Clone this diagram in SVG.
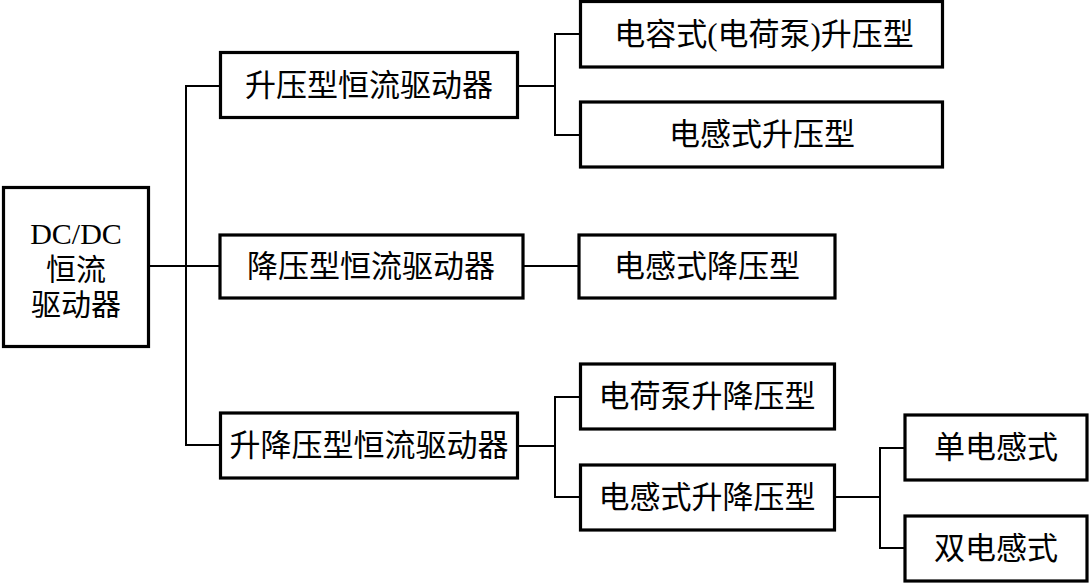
<svg xmlns="http://www.w3.org/2000/svg" width="1090" height="584" viewBox="0 0 1090 584">
<style>
.box{fill:#fff;stroke:#000;stroke-width:3.2}
.con{fill:none;stroke:#000;stroke-width:2}
.t{font-family:"Liberation Serif","Noto Sans CJK SC",serif;font-size:31px;fill:#000;text-anchor:middle}
.r{font-size:30px}
</style>
<rect x="0" y="0" width="1090" height="584" fill="#fff"/>
<g id="connectors">
<path class="con" d="M148 266 H220 M220 86 H186 V445 H220"/>
<path class="con" d="M518 86 H555 M580 34 H555 V135 H580"/>
<path class="con" d="M523 266 H579"/>
<path class="con" d="M518 446 H555 M580 397 H555 V497 H580"/>
<path class="con" d="M835 497 H880 M905 448 H880 V548 H905"/>
</g>
<g id="root">
<rect class="box" x="3.5" y="187.5" width="145" height="159"/>
<text class="t r" x="76" y="244">DC/DC</text>
<text class="t r" x="76" y="280">恒流</text>
<text class="t r" x="76" y="315">驱动器</text>
</g>
<g id="boost">
<rect class="box" x="220.5" y="52.5" width="297" height="65"/>
<text class="t" x="369" y="96">升压型恒流驱动器</text>
</g>
<g id="buck">
<rect class="box" x="220" y="235" width="303" height="63"/>
<text class="t" x="371" y="277">降压型恒流驱动器</text>
</g>
<g id="buckboost">
<rect class="box" x="220.5" y="413" width="297" height="65"/>
<text class="t" x="369" y="456">升降压型恒流驱动器</text>
</g>
<g id="boost-cap">
<rect class="box" x="580.5" y="1.5" width="362" height="65.5"/>
<text class="t" x="764" y="45">电容式(电荷泵)升压型</text>
</g>
<g id="boost-ind">
<rect class="box" x="580.5" y="102" width="362" height="65"/>
<text class="t" x="762" y="145">电感式升压型</text>
</g>
<g id="buck-ind">
<rect class="box" x="579" y="235" width="256" height="63"/>
<text class="t" x="707" y="277">电感式降压型</text>
</g>
<g id="bb-pump">
<rect class="box" x="580.5" y="364" width="254" height="65"/>
<text class="t" x="707" y="407">电荷泵升降压型</text>
</g>
<g id="bb-ind">
<rect class="box" x="580.5" y="465" width="254" height="65"/>
<text class="t" x="707" y="508">电感式升降压型</text>
</g>
<g id="single-ind">
<rect class="box" x="905" y="415" width="182" height="65"/>
<text class="t" x="996" y="458">单电感式</text>
</g>
<g id="dual-ind">
<rect class="box" x="905" y="516" width="182" height="65"/>
<text class="t" x="996" y="559">双电感式</text>
</g>
</svg>
